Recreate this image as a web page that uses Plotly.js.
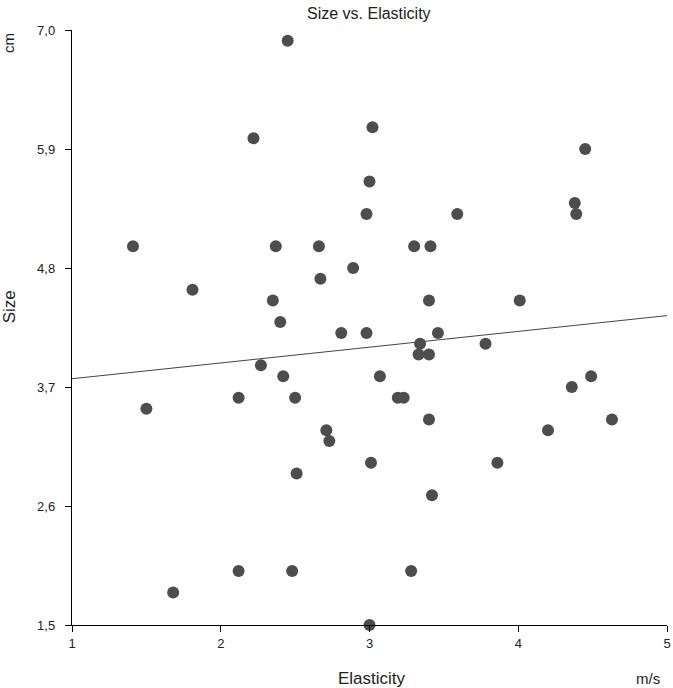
<!DOCTYPE html>
<html><head><meta charset="utf-8">
<script src="https://cdn.plot.ly/plotly-3.0.1.min.js"></script>
<style>body{margin:0;padding:0;background:#fff}#chart{width:673px;height:688px}</style>
</head><body><div id="chart"></div>
<script>
// Elasticity (m/s)
const elasticity = [2.45,2.22,3.02,4.45,3.00,2.98,3.59,4.38,4.39,1.41,2.37,2.66,3.30,3.41,2.89,2.67,1.81,2.35,2.40,3.40,4.01,2.81,2.98,3.46,3.34,3.78,3.33,3.40,2.27,2.42,3.07,4.49,4.36,1.50,2.12,2.50,3.19,3.23,3.40,4.63,4.20,2.71,2.73,3.01,3.86,2.51,3.42,2.12,2.48,3.28,1.68,3.00];
// Size (cm)
const size = [6.9,6.0,6.1,5.9,5.6,5.3,5.3,5.4,5.3,5.0,5.0,5.0,5.0,5.0,4.8,4.7,4.6,4.5,4.3,4.5,4.5,4.2,4.2,4.2,4.1,4.1,4.0,4.0,3.9,3.8,3.8,3.8,3.7,3.5,3.6,3.6,3.6,3.6,3.4,3.4,3.3,3.3,3.2,3.0,3.0,2.9,2.7,2.0,2.0,2.0,1.8,1.5];
const yTicks = [1.5,2.6,3.7,4.8,5.9,7.0];
const xTicks = [1,2,3,4,5];

// least-squares fit
const n = elasticity.length;
const mx = elasticity.reduce((a,b)=>a+b,0)/n;
const my = size.reduce((a,b)=>a+b,0)/n;
let sxy=0,sxx=0;
for(let i=0;i<n;i++){sxy+=(elasticity[i]-mx)*(size[i]-my);sxx+=(elasticity[i]-mx)**2;}
const slope=sxy/sxx, icpt=my-slope*mx;
const fitX=[xTicks[0], xTicks[xTicks.length-1]];
const fitY=fitX.map(x=>icpt+slope*x);

const fam = 'Liberation Sans, Arial, sans-serif';
const font = {family:fam, size:13, color:'#222'};
const data = [
  {x:fitX, y:fitY, mode:'lines', line:{color:'#444', width:1}, hoverinfo:'skip', cliponaxis:false},
  {x:elasticity, y:size, mode:'markers', marker:{size:12, color:'#4d4d4d'}, cliponaxis:false}
];
const layout = {
  width:673, height:688, showlegend:false,
  paper_bgcolor:'#fff', plot_bgcolor:'#fff',
  margin:{l:72, r:6, t:30, b:63},
  separators:',.',
  font:font,
  title:{text:'Size vs. Elasticity', x:0.548, xanchor:'center', y:0.988, yanchor:'top', font:{family:fam, size:16, color:'#222'}},
  xaxis:{range:[1,5], tickvals:xTicks, ticks:'outside', ticklen:6, tickcolor:'#000', showline:true, linecolor:'#000', linewidth:1.2, showgrid:false, zeroline:false, tickfont:font},
  yaxis:{range:[1.5,7.0], tickvals:yTicks, tickformat:'.1f', ticks:'outside', ticklen:6, tickcolor:'#000', ticklabelstandoff:7, showline:true, linecolor:'#000', linewidth:1.2, showgrid:false, zeroline:false, tickfont:font},
  annotations:[
    {text:'Elasticity', xref:'paper', yref:'paper', x:0.505, y:0, yshift:-53, xanchor:'center', yanchor:'middle', showarrow:false, font:{family:fam,size:17,color:'#222'}},
    {text:'m/s', xref:'paper', yref:'paper', x:0.968, y:0, yshift:-53, xanchor:'center', yanchor:'middle', showarrow:false, font:{family:fam,size:15,color:'#222'}},
    {text:'Size', xref:'paper', yref:'paper', x:0, xshift:-63, y:0.534, xanchor:'center', yanchor:'middle', textangle:-90, showarrow:false, font:{family:fam,size:17,color:'#222'}},
    {text:'cm', xref:'paper', yref:'paper', x:0, xshift:-64, y:0.978, xanchor:'center', yanchor:'middle', textangle:-90, showarrow:false, font:{family:fam,size:15,color:'#222'}}
  ]
};
Plotly.newPlot('chart', data, layout, {displayModeBar:false, staticPlot:true});
</script></body></html>
